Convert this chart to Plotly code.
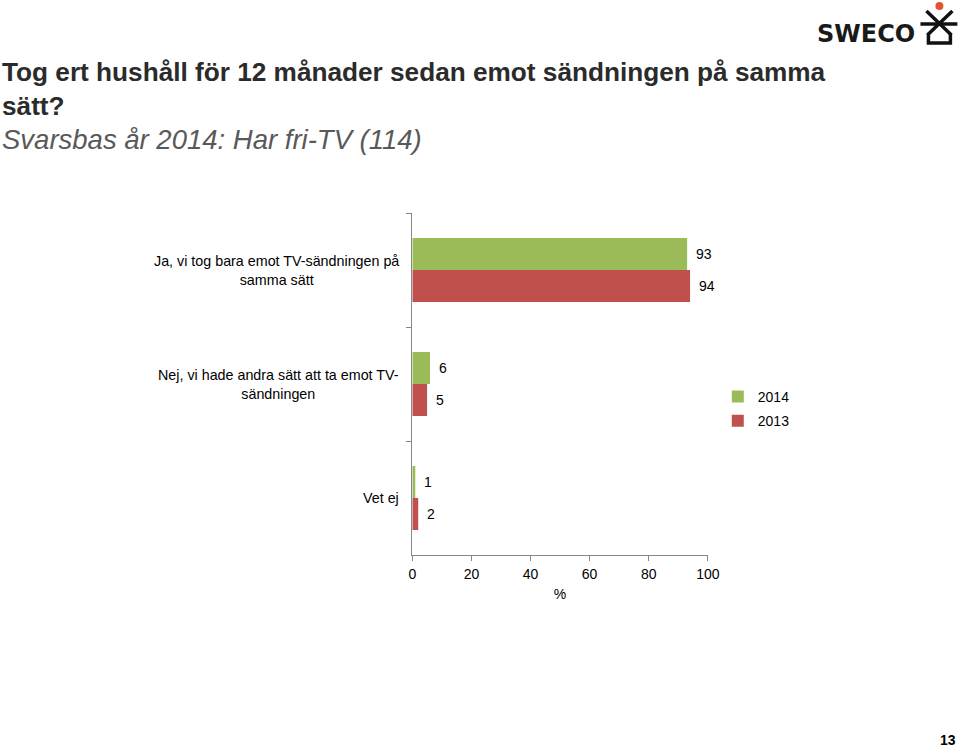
import plotly.graph_objects as go

W, H = 960, 747
categories = ["Ja, vi tog bara emot TV-sändningen på<br>samma sätt",
              "Nej, vi hade andra sätt att ta emot TV-<br>sändningen",
              "Vet ej"]
series_names = ["2014", "2013"]
values_2014 = [93, 6, 1]
values_2013 = [94, 5, 2]
x_ticks = [0, 20, 40, 60, 80, 100]
colors = {"2014": "#9BBB59", "2013": "#C0504D"}

FONT = "Arial, Liberation Sans, sans-serif"

def px(x):
    return ((x - 3) / 0.985) / W

def py(y):
    return 1 - y / H

fig = go.Figure()
for name, vals in zip(series_names, [values_2014, values_2013]):
    fig.add_trace(go.Bar(
        y=categories, x=vals, name=name, orientation="h", legendgroup=name,
        marker=dict(color=colors[name], line=dict(width=0)),
    ))

# data labels
annos = []
for name, vals, shift in zip(series_names, [values_2014, values_2013], [16, -16]):
    for c, v in zip(categories, vals):
        annos.append(dict(x=v, y=c, xref="x", yref="y", text=str(v), showarrow=False,
                          xanchor="left", yanchor="middle", xshift=7, yshift=shift,
                          font=dict(size=14, color="#000000", family=FONT)))
# category labels
for c in categories:
    annos.append(dict(x=px(401), y=c, xref="paper", yref="y", text=c, showarrow=False,
                      xanchor="right", yanchor="middle", align="center",
                      font=dict(size=14.3, color="#000000", family=FONT)))
# title
annos.append(dict(x=px(-1), y=py(55), xref="paper", yref="paper", xanchor="left", yanchor="top",
                  align="left", showarrow=False,
                  text="<b>Tog ert hushåll för 12 månader sedan emot sändningen på samma<br>sätt?</b><br>"
                       "<i><span style='color:#595959;font-size:27.5px'>Svarsbas år 2014: Har fri-TV (114)</span></i>",
                  font=dict(size=26.2, color="#2b2b2b", family=FONT)))
# logo text
annos.append(dict(x=px(815), y=py(34), xref="paper", yref="paper", xanchor="left", yanchor="middle",
                  showarrow=False, text="<b>SWECO</b>",
                  font=dict(size=24, color="#1a1a1a", family="DejaVu Sans, sans-serif")))
# page number
annos.append(dict(x=px(959), y=py(740), xref="paper", yref="paper", xanchor="right", yanchor="middle",
                  showarrow=False, text="<b>13</b>",
                  font=dict(size=14, color="#000000", family=FONT)))

shapes = []
lw = 3.5
def line(x0, y0, x1, y1):
    shapes.append(dict(type="line", xref="paper", yref="paper", x0=px(x0), y0=py(y0), x1=px(x1), y1=py(y1),
                       line=dict(color="#111111", width=lw)))
line(921, 24, 958, 24)
line(927, 11, 952, 35)
line(953, 11, 928, 35)
shapes.append(dict(type="path", xref="paper", yref="paper",
                   path=f"M {px(929)} {py(34)} L {px(929)} {py(43)} L {px(951)} {py(43)} L {px(951)} {py(34)}",
                   line=dict(color="#111111", width=lw)))
shapes.append(dict(type="circle", xref="paper", yref="paper",
                   x0=px(936), y0=py(10), x1=px(944), y1=py(2),
                   fillcolor="#E5532D", line=dict(width=0)))

fig.update_layout(
    width=W, height=H,
    margin=dict(l=0, r=0, t=0, b=0),
    paper_bgcolor="white", plot_bgcolor="white",
    barmode="group", bargap=0.44, bargroupgap=0,
    font=dict(family=FONT, size=14, color="#000000"),
    xaxis=dict(domain=[px(412), px(708)], range=[0, 100], tickvals=x_ticks,
               showgrid=False, zeroline=False, showline=True, linecolor="#868686", linewidth=1,
               ticks="outside", ticklen=5, tickcolor="#868686", ticklabelstandoff=1,
               tickfont=dict(size=14, family=FONT, color="#000000"),
               title=dict(text="%", font=dict(size=14, family=FONT), standoff=8)),
    yaxis=dict(domain=[py(555), py(213)], autorange="reversed", showticklabels=False,
               showgrid=False, zeroline=False, showline=True, linecolor="#868686", linewidth=1,
               ticks="outside", ticklen=5, tickcolor="#868686", tickson="boundaries"),
    legend=dict(x=px(718), y=py(381), xanchor="left", yanchor="top", traceorder="grouped",
                font=dict(size=14, family=FONT), bgcolor="rgba(0,0,0,0)", itemwidth=30,
                tracegroupgap=3),
    annotations=annos, shapes=shapes,
    showlegend=True,
)
fig.write_html("out.html")
